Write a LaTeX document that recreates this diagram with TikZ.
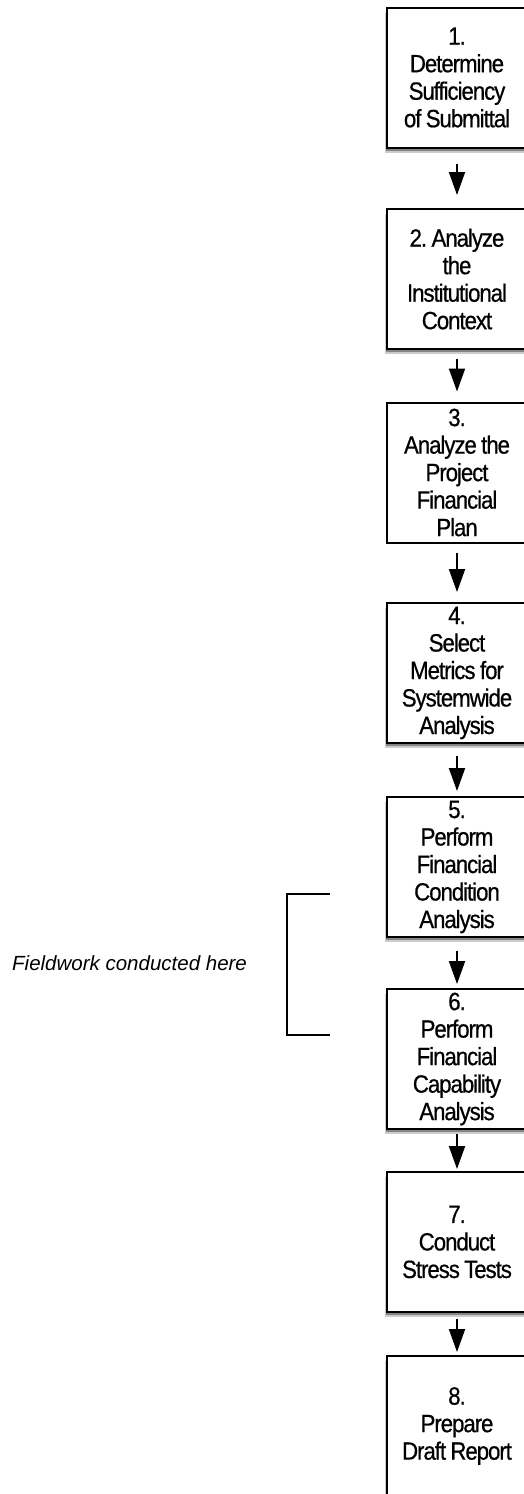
\documentclass[tikz,border=0pt]{standalone}
\usepackage{fontspec}
\setmainfont{Liberation Sans}
\newfontfamily\boxfont[FakeStretch=0.89,LetterSpace=-4.2,FakeBold=0.6]{Liberation Sans}
\newcommand\boxfontsetup{\boxfont\fontsize{25}{27.5}\selectfont}
\newcommand\tightspaces{\frenchspacing\spaceskip=4pt plus 1pt minus 1pt\relax\xspaceskip=4pt plus 1pt minus 1pt\relax}
\usetikzlibrary{shadows,arrows.meta}
\begin{document}
\begin{tikzpicture}[x=1pt,y=-1pt,
  stepbox/.style={draw=black,line width=2pt,fill=white,rectangle,
    minimum width=140pt,minimum height=140pt,inner sep=0pt,text width=136pt,
    align=center,font=\boxfontsetup,execute at begin node=\tightspaces},
  shad/.style={drop shadow={shadow xshift=-2pt,shadow yshift=-5pt,fill=black,opacity=0.2},
    drop shadow={shadow xshift=-1pt,shadow yshift=-3pt,fill=black,opacity=0.35}},
  arr/.style={line width=2pt,-{Triangle[length=23pt,width=16pt]}},
  brk/.style={line width=1.6pt}]
\useasboundingbox (0,0) rectangle (524,1494);
\clip (0,0) rectangle (524,1494);
\fill[white] (0,0) rectangle (524,1494);
\node[stepbox,shad] (b1) at (457,77.5) {1.\\Determine\\Sufficiency\\of Submittal};
\node[stepbox,shad] (b2) at (457,279) {2. Analyze\\the\\Institutional\\Context};
\node[stepbox] (b3) at (457,472.5) {3.\\Analyze the\\Project\\Financial\\Plan};
\node[stepbox,shad] (b4) at (457,673) {4.\\Select\\Metrics for\\Systemwide\\Analysis};
\node[stepbox,shad] (b5) at (457,867) {5.\\Perform\\Financial\\Condition\\Analysis};
\node[stepbox,shad] (b6) at (457,1059) {6.\\Perform\\Financial\\Capability\\Analysis};
\node[stepbox,shad] (b7) at (457,1242) {7.\\Conduct\\Stress Tests};
\node[stepbox,shad] (b8) at (457,1426) {8.\\Prepare\\Draft Report};
\draw[arr,shorten <=15pt,shorten >=13pt] (b1) -- (b2);
\draw[arr,shorten <=9pt,shorten >=10pt] (b2) -- (b3);
\draw[arr,shorten <=9pt,shorten >=10pt] (b3) -- (b4);
\draw[arr,shorten <=12pt,shorten >=5pt] (b4) -- (b5);
\draw[arr,shorten <=13pt,shorten >=4pt] (b5) -- (b6);
\draw[arr,shorten <=4pt,shorten >=2pt] (b6) -- (b7);
\draw[arr,shorten <=6pt,shorten >=3pt] (b7) -- (b8);
\coordinate (k1) at (330,894);
\coordinate (k2) at (287,894);
\coordinate (k3) at (287,1035);
\coordinate (k4) at (330,1035);
\draw[brk] (k1) -- (k2) -- (k3) -- (k4);
\node[anchor=west,inner sep=0pt,font=\fontsize{20.5}{24}\selectfont\itshape] (fw) at (12,963) {Fieldwork conducted here};
\end{tikzpicture}
\end{document}
